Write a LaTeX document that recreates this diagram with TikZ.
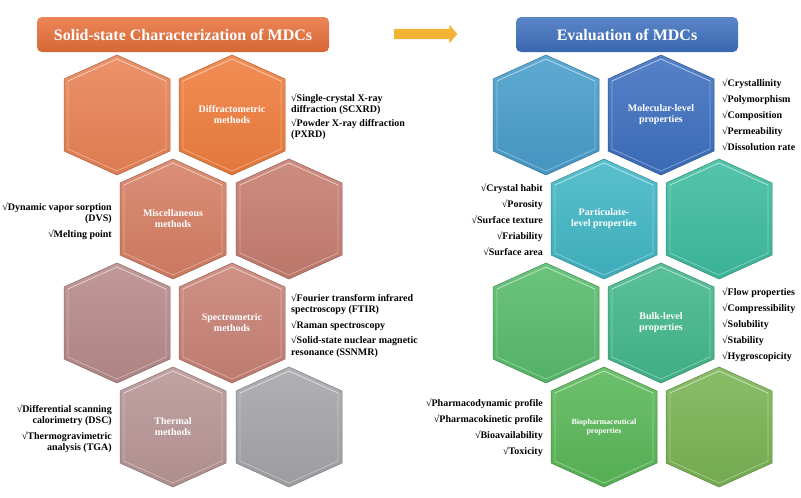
\documentclass[tikz,border=0pt]{standalone}
\usepackage{fontspec}
\setmainfont{Liberation Serif}
\usepackage{xcolor}
\usepackage{tikz}
\usetikzlibrary{shapes.arrows,positioning}

\definecolor{hexorange}{RGB}{233,131,86}
\definecolor{hexbright}{RGB}{240,126,62}
\definecolor{hexsalmon}{RGB}{215,127,100}
\definecolor{hexrose}{RGB}{199,125,112}
\definecolor{hexmauve}{RGB}{184,139,139}
\definecolor{hexclay}{RGB}{201,130,118}
\definecolor{hexdusk}{RGB}{185,150,150}
\definecolor{hexgray}{RGB}{166,166,170}
\definecolor{hexsky}{RGB}{72,158,204}
\definecolor{hexblue}{RGB}{62,112,192}
\definecolor{hexteal}{RGB}{66,183,198}
\definecolor{hexjade}{RGB}{62,189,158}
\definecolor{hexgreen}{RGB}{88,188,108}
\definecolor{hexsea}{RGB}{68,184,140}
\definecolor{hexleaf}{RGB}{90,184,88}
\definecolor{hexolive}{RGB}{122,180,84}
\definecolor{titleorange}{RGB}{232,112,58}
\definecolor{titleblue}{RGB}{62,112,190}
\definecolor{arrowgold}{RGB}{242,178,51}

% one bevelled hexagon: name, centre, colour
\newcommand{\hexcell}[3]{%
  \begin{scope}[shift={(#2)}]
    \path[top color=#3!88!white, bottom color=#3!94!black, draw=#3!75!black, line width=0.5pt]
      (0,-60) -- (53,-36) -- (53,36) -- (0,60) -- (-53,36) -- (-53,-36) -- cycle;
    \draw[white, opacity=0.35, line width=0.8pt]
      (0,-56) -- (49,-34) -- (49,34) -- (0,56) -- (-49,34) -- (-49,-34) -- cycle;
    \draw[white, opacity=0.3, line width=0.8pt] (-49,-34) -- (0,-56) -- (49,-34);
    \coordinate (#1) at (0,0);
  \end{scope}}

\tikzset{
  banner/.style={rounded corners=5pt, text=white, inner sep=0pt,
    minimum height=35pt, font=\fontsize{16}{19}\selectfont\bfseries},
  hextext/.style={text=white, align=center, inner sep=0pt,
    font=\fontsize{10}{11}\selectfont\bfseries},
  listleft/.style={anchor=north west, align=left, inner sep=0pt,
    font=\fontsize{10}{11.5}\selectfont\bfseries},
  listright/.style={anchor=north east, align=right, inner sep=0pt,
    font=\fontsize{10}{11.5}\selectfont\bfseries}
}

\begin{document}
\begin{tikzpicture}[x=1pt, y=-1pt]
    \useasboundingbox (0,0) rectangle (801,498);
    \fill[white] (0,0) rectangle (801,498);

    % Title banners and arrow
    \node[banner, minimum width=292pt, top color=titleorange!85!white, bottom color=titleorange!92!black]
        (solid) at (183,34.5) {Solid-state Characterization of MDCs};
    \node[banner, minimum width=222pt, top color=titleblue!85!white, bottom color=titleblue!92!black]
        (evalt) at (627,34.5) {Evaluation of MDCs};
    \node[single arrow, fill=arrowgold, inner sep=5pt, minimum height=63pt,
        single arrow head extend=4pt, single arrow tip angle=100] (flow) at (423.5,34) {};

    % Characterization hexagons
    \hexcell{sA}{117,115}{hexorange}
    \hexcell{sB}{232,115}{hexbright}
    \hexcell{sC}{173,219}{hexsalmon}
    \hexcell{sD}{289,219}{hexrose}
    \hexcell{sE}{117,323}{hexmauve}
    \hexcell{sF}{232,323}{hexclay}
    \hexcell{sG}{173,427}{hexdusk}
    \hexcell{sH}{289,427}{hexgray}

    % Evaluation hexagons
    \hexcell{eA}{546,115}{hexsky}
    \hexcell{eB}{661,115}{hexblue}
    \hexcell{eC}{604,219}{hexteal}
    \hexcell{eD}{719,219}{hexjade}
    \hexcell{eE}{546,323}{hexgreen}
    \hexcell{eF}{661,323}{hexsea}
    \hexcell{eG}{604,427}{hexleaf}
    \hexcell{eH}{719,427}{hexolive}

    % Hexagon labels
    \node[hextext] (diffr) at (sB) {Diffractometric\\methods};
    \node[hextext] (misc) at (sC) {Miscellaneous\\methods};
    \node[hextext] (spectr) at (sF) {Spectrometric\\methods};
    \node[hextext] (therm) at (sG) {Thermal\\methods};
    \node[hextext] (molec) at (eB) {Molecular-level\\properties};
    \node[hextext] (partic) at (eC) {Particulate-\\level properties};
    \node[hextext] (bulk) at (eF) {Bulk-level\\properties};
    \node[hextext, font=\fontsize{8}{9}\selectfont\bfseries] (biopharm) at (eG) {Biopharmaceutical\\properties};

    % Method lists
    \node[listleft] (diffrlist) at (291,93) {√Single-crystal X-ray\\diffraction (SCXRD)\\[2pt]√Powder X-ray diffraction\\(PXRD)};
    \node[listright] (misclist) at (112,202) {√Dynamic vapor sorption\\(DVS)\\[4pt]√Melting point};
    \node[listleft] (spectrlist) at (291,293) {√Fourier transform infrared\\spectroscopy (FTIR)\\[4pt]√Raman spectroscopy\\[4pt]√Solid-state nuclear magnetic\\resonance (SSNMR)};
    \node[listright] (thermlist) at (112,404) {√Differential scanning\\calorimetry (DSC)\\[4pt]√Thermogravimetric\\analysis (TGA)};

    % Property lists
    \node[listleft] (moleclist) at (722,78) {√Crystallinity\\[4.5pt]√Polymorphism\\[4.5pt]√Composition\\[4.5pt]√Permeability\\[4.5pt]√Dissolution rate};
    \node[listright] (particlist) at (543,183) {√Crystal habit\\[4.5pt]√Porosity\\[4.5pt]√Surface texture\\[4.5pt]√Friability\\[4.5pt]√Surface area};
    \node[listleft] (bulklist) at (722,287) {√Flow properties\\[4.5pt]√Compressibility\\[4.5pt]√Solubility\\[4.5pt]√Stability\\[4.5pt]√Hygroscopicity};
    \node[listright] (biolist) at (543,398) {√Pharmacodynamic profile\\[4.5pt]√Pharmacokinetic profile\\[4.5pt]√Bioavailability\\[4.5pt]√Toxicity};
\end{tikzpicture}
\end{document}
